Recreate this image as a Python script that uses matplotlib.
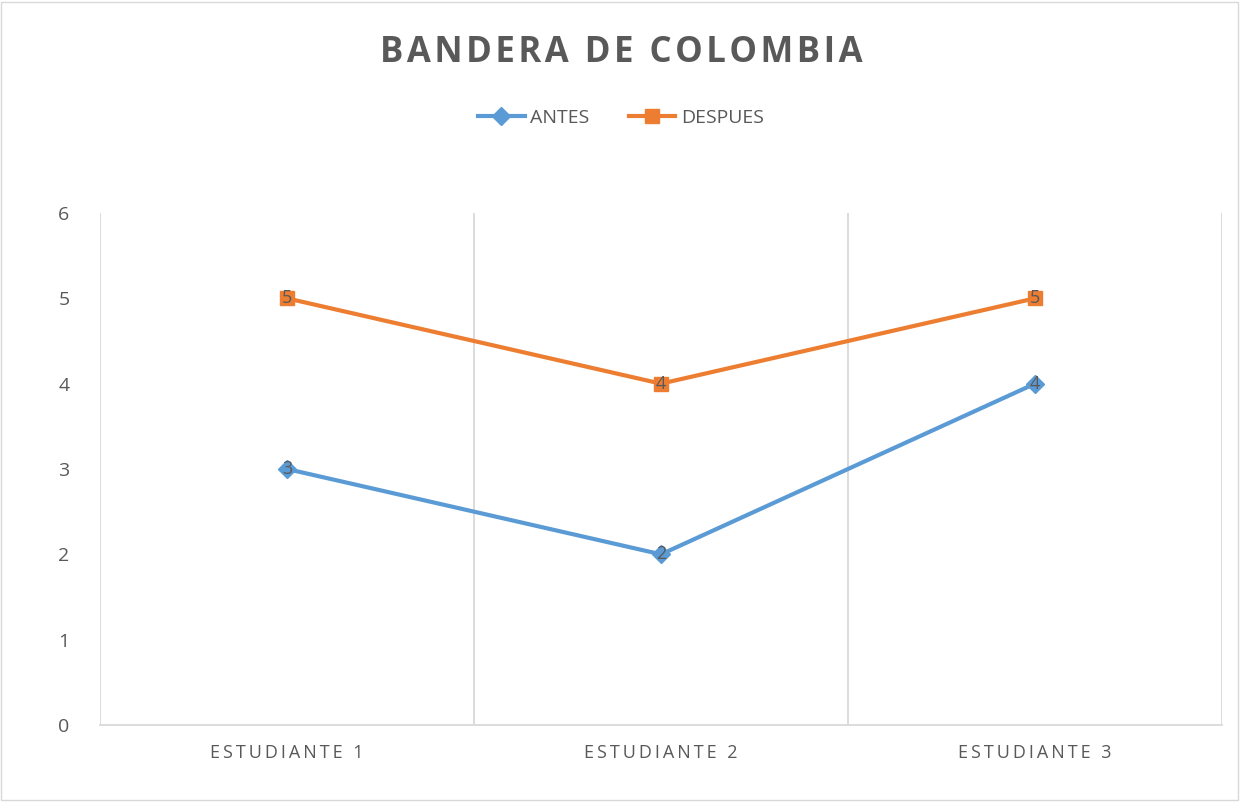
import matplotlib
matplotlib.use("Agg")
import matplotlib.pyplot as plt
from matplotlib.patches import Rectangle

categories = ["ESTUDIANTE 1", "ESTUDIANTE 2", "ESTUDIANTE 3"]
antes = [3, 2, 4]
despues = [5, 4, 5]

BLUE = "#5B9BD5"
ORANGE = "#ED7D31"
GRAY = "#595959"
GRID = "#D9D9D9"

plt.rcParams["font.family"] = ["Open Sans", "DejaVu Sans"]


def spaced(s, sep="\u2009"):
    return sep.join(s)


fig = plt.figure(figsize=(12.42, 8.02), dpi=100)
ax = fig.add_axes([100 / 1242, 77 / 802, 1122 / 1242, 512 / 802])

x = [i + 0.5 for i in range(len(categories))]
ax.plot(x, antes, color=BLUE, lw=3, marker="D", ms=9, label="ANTES", zorder=3)
ax.plot(x, despues, color=ORANGE, lw=3, marker="s", ms=10, label="DESPUES", zorder=3)

for xi, v in zip(x, antes):
    ax.text(xi, v, str(v), ha="center", va="center", fontsize=13, color=GRAY, zorder=4)
for xi, v in zip(x, despues):
    ax.text(xi, v, str(v), ha="center", va="center", fontsize=13, color=GRAY, zorder=4)

ax.set_xlim(0, 3)
ax.set_ylim(0, 6)
ax.set_xticks([0, 1, 2, 3])
ax.set_xticklabels([])
ax.set_xticks(x, minor=True)
ax.set_xticklabels([spaced(c) for c in categories], minor=True, fontsize=13, color=GRAY)
ax.tick_params(axis="x", which="both", length=0, pad=14)
ax.set_yticks(range(7))
ax.tick_params(axis="y", length=0, labelsize=14, labelcolor=GRAY, pad=22)
ax.grid(axis="x", which="major", color=GRID, lw=1.3)
for s in ["top", "right", "left"]:
    ax.spines[s].set_visible(False)
ax.spines["bottom"].set_color(GRID)
ax.spines["bottom"].set_linewidth(1.3)

fig.text(0.5, 1 - 53 / 802, spaced("BANDERA DE COLOMBIA", "\u200a"), ha="center", va="center",
         fontsize=25, fontweight="bold", color=GRAY)
fig.legend(loc="center", bbox_to_anchor=(0.5, 1 - 118 / 802), ncol=2, frameon=False,
           fontsize=14, labelcolor=GRAY, handlelength=2.4, columnspacing=2, handletextpad=0.3)

fig.patches.append(Rectangle((0.001, 0.002), 0.996, 0.996, transform=fig.transFigure,
                             fill=False, edgecolor=GRID, lw=1))

fig.savefig("out.png", dpi=100)
